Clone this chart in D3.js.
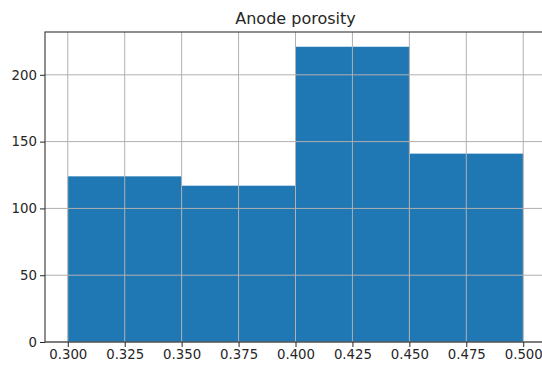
<!DOCTYPE html>
<html>
<head>
<meta charset="utf-8">
<script src="https://cdn.jsdelivr.net/npm/d3@7"></script>
<style>
  body { margin: 0; background: #fff; }
  text { font-family: "DejaVu Sans", sans-serif; fill: #262626; }
</style>
</head>
<body>
<div id="chart-area"></div>
<script>
// histogram data
var binEdges = [0.30, 0.35, 0.40, 0.45, 0.50];
var binCounts = [124, 117, 221, 141];
var xTicks = [0.300, 0.325, 0.350, 0.375, 0.400, 0.425, 0.450, 0.475, 0.500];
var yTicks = [0, 50, 100, 150, 200];
var chartTitle = "Anode porosity";

var W = 542, H = 367;
var margin = { left: 45, right: -4, top: 32, bottom: 25 },
    width = W - margin.left - margin.right,
    height = H - margin.top - margin.bottom;

var svg = d3.select("#chart-area").append("svg")
    .attr("width", W)
    .attr("height", H);

var g = svg.append("g")
    .attr("transform", "translate(" + margin.left + "," + margin.top + ")");

// matplotlib style margins: 5% on x, top 5% on y
var x = d3.scaleLinear().domain([0.29, 0.51]).range([0, width]);
var y = d3.scaleLinear().domain([0, d3.max(binCounts) * 1.05]).range([height, 0]);

var bins = binCounts.map(function(c, i) {
    return { x0: binEdges[i], x1: binEdges[i + 1], count: c };
});

// bars
g.selectAll(".bar").data(bins).enter().append("rect")
    .attr("class", "bar")
    .attr("x", function(d) { return x(d.x0); })
    .attr("width", function(d) { return x(d.x1) - x(d.x0); })
    .attr("y", function(d) { return y(d.count); })
    .attr("height", function(d) { return height - y(d.count); })
    .attr("fill", "#1f77b4");

// grid on top of the bars
g.selectAll(".vgrid").data(xTicks).enter().append("line")
    .attr("x1", function(d) { return x(d); })
    .attr("x2", function(d) { return x(d); })
    .attr("y1", 0).attr("y2", height)
    .attr("stroke", "#b0b0b0").attr("stroke-width", 1);
g.selectAll(".hgrid").data(yTicks).enter().append("line")
    .attr("y1", function(d) { return y(d); })
    .attr("y2", function(d) { return y(d); })
    .attr("x1", 0).attr("x2", width)
    .attr("stroke", "#b0b0b0").attr("stroke-width", 1);

// axes
var xAxisCall = d3.axisBottom(x).tickValues(xTicks).tickFormat(d3.format(".3f"))
    .tickSize(5).tickPadding(3);
var yAxisCall = d3.axisLeft(y).tickValues(yTicks).tickSize(5).tickPadding(3);

var xAxis = g.append("g")
    .attr("transform", "translate(0," + height + ")")
    .call(xAxisCall);
var yAxis = g.append("g").call(yAxisCall);

[xAxis, yAxis].forEach(function(ax) {
    ax.select(".domain").remove();
    ax.selectAll("line").attr("stroke", "#262626").attr("stroke-width", 1);
    ax.selectAll("text").attr("font-size", "13.3px")
        .attr("font-family", "DejaVu Sans").attr("fill", "#262626");
});

// spines
g.append("rect")
    .attr("x", 0).attr("y", 0)
    .attr("width", width).attr("height", height)
    .attr("fill", "none")
    .attr("stroke", "#333").attr("stroke-width", 1.1);

// title
g.append("text")
    .attr("x", x(0.40))
    .attr("y", -8)
    .attr("text-anchor", "middle")
    .attr("font-size", "16px")
    .text(chartTitle);
</script>
</body>
</html>
